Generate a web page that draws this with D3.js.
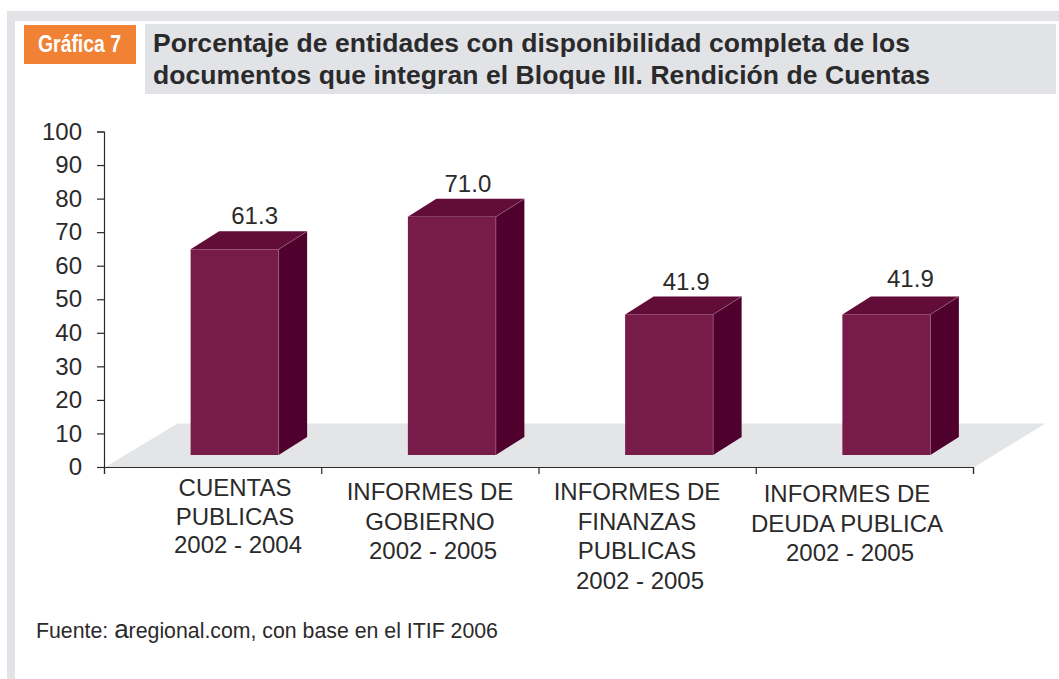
<!DOCTYPE html>
<html>
<head>
<meta charset="utf-8">
<script src="https://cdn.jsdelivr.net/npm/d3@7"></script>
<style>
  html, body { margin: 0; padding: 0; background: #fff; }
  svg { display: block; }
  text { font-family: "Liberation Sans", Arial, sans-serif; fill: #2b2a2b; }
</style>
</head>
<body>
<svg id="chart" width="1059" height="679"></svg>
<script>
// Values
const categories = [
  ["CUENTAS", "PUBLICAS", "2002 - 2004"],
  ["INFORMES DE", "GOBIERNO", "2002 - 2005"],
  ["INFORMES DE", "FINANZAS", "PUBLICAS", "2002 - 2005"],
  ["INFORMES DE", "DEUDA PUBLICA", "2002 - 2005"]
]
const values = [61.3, 71.0, 41.9, 41.9]
const yTicks = [0, 10, 20, 30, 40, 50, 60, 70, 80, 90, 100]
const titleLines = [
  "Porcentaje de entidades con disponibilidad completa de los",
  "documentos que integran el Bloque III. Rendición de Cuentas"
]

const svg = d3.select("#chart")

// Page frame
svg.append("path")
  .attr("d", "M7,11H1059V21H15V679H7Z")
  .attr("fill", "#e1e3e7")

// Header
svg.append("rect").attr("x", 24).attr("y", 25).attr("width", 112).attr("height", 39).attr("fill", "#f08135")
svg.append("text")
  .attr("x", 38).attr("y", 52)
  .attr("font-size", 24).attr("font-weight", "bold")
  .attr("textLength", 83).attr("lengthAdjust", "spacingAndGlyphs")
  .style("fill", "#fff")
  .text("Gráfica 7")

svg.append("rect").attr("x", 145).attr("y", 24).attr("width", 911).attr("height", 70).attr("fill", "#e1e3e7")
svg.selectAll(".title").data(titleLines).join("text")
  .attr("class", "title")
  .attr("x", 153)
  .attr("y", (d, i) => 52 + i * 32)
  .attr("font-size", 26.5).attr("font-weight", "bold")
  .attr("textLength", (d, i) => i === 0 ? 757 : 777)
  .attr("lengthAdjust", "spacing")
  .text(d => d)

// Scales
const y = d3.scaleLinear().domain([0, 100]).range([467.5, 132])
const x = d3.scaleBand().domain(d3.range(categories.length)).range([104.5, 973.5])
const xEdges = d3.scaleLinear().domain([0, categories.length]).range([104.5, 973.5])

// The 3D box sits up and to the right of the axis plane
const barWidth = 88
const barShift = 21.5
const baseLift = 12.5
const depthX = 28.5
const depthY = 18

// Floor
const floorDX = 73
const floorDY = 44
svg.append("path")
  .attr("d", `M${xEdges(0)},${y(0)}L${xEdges(0) + floorDX},${y(0) - floorDY}` +
    `H${xEdges(4) + floorDX - 1}L${xEdges(4)},${y(0)}Z`)
  .attr("fill", "#e4e5e7")

// Bars
const bars = svg.selectAll(".bar").data(values).join("g").attr("class", "bar")
const left = (d, i) => x(i) + x.bandwidth() / 2 + barShift - barWidth / 2
const top3d = d => y(d) - baseLift

bars.append("path") // side
  .attr("d", (d, i) => {
    const r = left(d, i) + barWidth
    return `M${r},${top3d(d)}l${depthX},${-depthY}V${y(0) - baseLift - depthY}l${-depthX},${depthY}Z`
  })
  .attr("fill", "#4f002c")
bars.append("path") // top
  .attr("d", (d, i) => {
    const l = left(d, i)
    return `M${l},${top3d(d)}l${depthX},${-depthY}h${barWidth}l${-depthX},${depthY}Z`
  })
  .attr("fill", "#620c38")
bars.append("rect") // front
  .attr("x", left)
  .attr("y", top3d)
  .attr("width", barWidth)
  .attr("height", d => y(0) - baseLift - top3d(d))
  .attr("fill", "#771c48")
bars.append("path") // light edges of the box
  .attr("d", (d, i) => {
    const r = left(d, i) + barWidth
    return `M${r},${y(0) - baseLift}V${top3d(d)}l${depthX},${-depthY}`
  })
  .attr("fill", "none").attr("stroke", "#a0688a").attr("stroke-width", 0.6)

// Value labels were dragged by hand in the original
const valueNudgeX = [20, 16, 17, 24]
const valueNudgeY = [-25, -25, -24, -27]
bars.append("text")
  .attr("x", (d, i) => left(d, i) + barWidth / 2 + valueNudgeX[i])
  .attr("y", (d, i) => top3d(d) + valueNudgeY[i])
  .attr("text-anchor", "middle")
  .attr("font-size", 24)
  .text(d => d.toFixed(1))

// Axes (d3 adds its own half pixel, so pull back to stay on the scale)
const yAxis = svg.append("g")
  .attr("transform", "translate(104,-0.5)")
  .call(d3.axisLeft(y).tickValues(yTicks).tickSize(7).tickPadding(15))
const xAxis = svg.append("g")
  .attr("transform", `translate(-0.5,${y(0) - 0.5})`)
  .call(d3.axisBottom(xEdges).tickValues(d3.range(categories.length + 1)).tickSize(7).tickFormat(""))
for (const ax of [yAxis, xAxis]) {
  ax.selectAll("path, line").attr("stroke", "#2b2a2b").attr("stroke-width", 1.2)
}
yAxis.selectAll("text").attr("font-size", 24).style("fill", "#2b2a2b").style("font-family", "'Liberation Sans'")

// Category labels were placed by hand too, so each has its own position
const labelCx = [235, 430, 637, 847]
const labelTop = [496, 500, 500, 502]
const lineStep = [28.5, 29.5, 29.5, 29.5]
svg.selectAll(".cat").data(categories).join("text")
  .attr("class", "cat")
  .attr("font-size", 24)
  .attr("text-anchor", "middle")
  .each(function (lines, i) {
    d3.select(this).selectAll("tspan").data(lines).join("tspan")
      .attr("x", (d, j) => labelCx[i] + (j === lines.length - 1 ? 3 : 0))
      .attr("y", (d, j) => labelTop[i] + j * lineStep[i])
      .text(d => d)
  })

// Source
const source = svg.append("text").attr("x", 36).attr("y", 638).attr("font-size", 21.3)
source.append("tspan").text("Fuente: ")
source.append("tspan").attr("font-size", 26).text("a")
source.append("tspan").text("regional.com, con base en el ITIF 2006")
</script>
</body>
</html>
